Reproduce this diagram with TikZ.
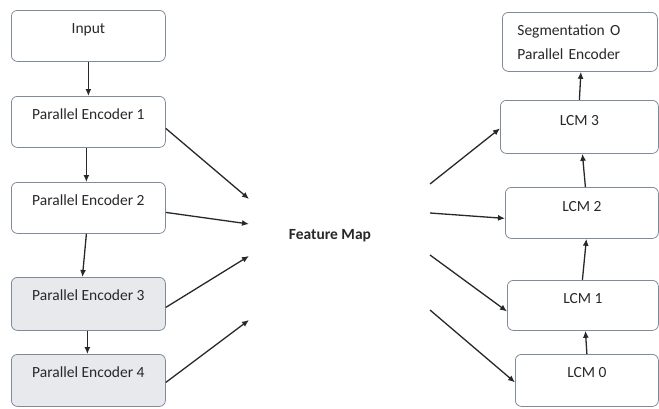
\documentclass[tikz,border=0pt]{standalone}
\usepackage{fontspec}
\setmainfont{Carlito}
\usetikzlibrary{arrows.meta}
\definecolor{boxline}{RGB}{128, 138, 152}
\definecolor{boxfill}{RGB}{231, 233, 237}
\definecolor{inkgray}{RGB}{40, 40, 40}
\tikzset{
    block/.style={draw=boxline, line width=.8pt, rounded corners=6pt,
        anchor=north west, inner sep=0pt, text height=23.5pt, text depth=27.5pt,
        minimum width=154pt, text=inkgray,
        font=\fontsize{15.5pt}{18pt}\selectfont},
    shaded/.style={fill=boxfill},
    link/.style={draw=inkgray, line width=1.3pt,
        -{Latex[length=7pt, width=6pt]}},
}

\begin{document}
\begin{tikzpicture}[x=1pt, y=-1pt]
    \useasboundingbox (0, 0) rectangle (659, 408);

    % encoder column
    \node[block] (inp) at (11, 10) {Input};
    \node[block] (pe1) at (11, 96) {Parallel Encoder 1};
    \node[block] (pe2) at (11, 182) {Parallel Encoder 2};
    \node[block, shaded, text depth=29.5pt] (pe3) at (11, 277)
        {Parallel Encoder 3};
    \node[block, shaded, text depth=28.5pt] (pe4) at (11, 354)
        {Parallel Encoder 4};

    % decoder column
    \node[block, minimum width=155pt, minimum height=59pt, inner xsep=15pt,
        text height=, text depth=, text width=125pt, align=left,
        font=\fontsize{15.5pt}{24pt}\selectfont] (seg) at (502, 12)
        {Segmentation O\\Parallel Encoder};
    \node[block, minimum width=158pt, text height=25.5pt] (lcm3) at (500, 100)
        {LCM 3};
    \node[block, minimum width=153pt, text height=24.5pt, text depth=26.5pt]
        (lcm2) at (505, 187) {LCM 2};
    \node[block, minimum width=151pt, text depth=26.5pt] (lcm1) at (507, 280)
        {LCM 1};
    \node[block, minimum width=143pt, text depth=28.5pt] (lcm0) at (515, 354)
        {LCM 0};

    \node[text=inkgray, font=\fontsize{15.5pt}{18pt}\selectfont\bfseries]
        (fmap) at (330, 236) {Feature Map};

    \coordinate (fin1) at (249, 199);
    \coordinate (fin2) at (249, 224);
    \coordinate (fin3) at (249, 256);
    \coordinate (fin4) at (249, 320);
    \coordinate (fout3) at (430, 184);
    \coordinate (fout2) at (430, 213);
    \coordinate (fout1) at (430, 255);
    \coordinate (fout0) at (430, 310);

    \draw[link] (inp.south) -- (pe1.north);
    \draw[link] ([xshift=-2pt]pe1.south) -- ([xshift=-2pt]pe2.north);
    \draw[link] ([xshift=-2pt]pe2.south) -- ([xshift=-6pt]pe3.north);
    \draw[link] ([xshift=-1pt]pe3.south) -- ([xshift=-1pt]pe4.north);

    \draw[link] ([yshift=-6.5pt]pe1.east) -- (fin1);
    \draw[link] ([yshift=-4.5pt]pe2.east) -- (fin2);
    \draw[link] ([yshift=-3.5pt]pe3.east) -- (fin3);
    \draw[link] ([yshift=-2pt]pe4.east) -- (fin4);

    \draw[link] (fout3) -- ([yshift=-1.5pt]lcm3.west);
    \draw[link] (fout2) -- ([yshift=-5.5pt]lcm2.west);
    \draw[link] (fout1) -- ([yshift=-6pt]lcm1.west);
    \draw[link] (fout0) -- ([yshift=-2pt]lcm0.west);

    \draw[link] (lcm0.north) -- ([xshift=2.5pt]lcm1.north |- lcm1.south);
    \draw[link] ([xshift=-0.5pt]lcm1.north) -- ([xshift=4.5pt]lcm2.south);
    \draw[link] ([xshift=3.5pt]lcm2.north) -- ([xshift=3pt]lcm3.south);
    \draw[link] (lcm3.north) -- ([xshift=1pt]seg.south);
\end{tikzpicture}
\end{document}
